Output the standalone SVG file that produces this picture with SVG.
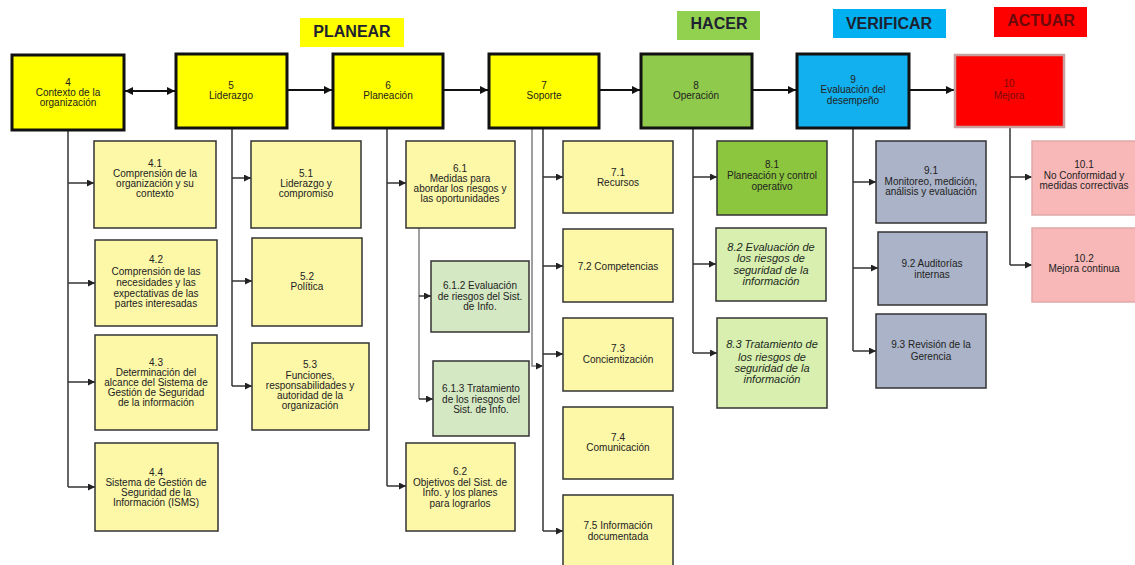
<svg xmlns="http://www.w3.org/2000/svg" width="1135" height="565" viewBox="0 0 1135 565">
  <style>
    .t { font-family: "Liberation Sans", Arial, sans-serif; font-size: 10px; fill: #222; text-anchor: middle; }
    .it { font-style: italic; font-size: 11px; fill: #1d2a1d; }
    .hdr { font-family: "Liberation Sans", Arial, sans-serif; font-size: 16px; font-weight: bold; fill: #1e2230; text-anchor: middle; }
    .mainbox { stroke: #111; stroke-width: 3; }
    .box { stroke: #333; stroke-width: 1.5; }
    .yel { fill: #ffff00; }
    .sy { fill: #fcf8a8; }
    .sg { fill: #d5e8c4; }
    .lg { fill: #d8efb0; }
    .sb { fill: #aab3c7; }
    .sp { fill: #f8b8b8; }
    .main { stroke: #111; stroke-width: 2.2; fill: none; }
    .sub { stroke: #333; stroke-width: 1.5; fill: none; }
    .grey { stroke: #808080; stroke-width: 1.5; fill: none; }
  </style>
  <defs>
    <marker id="ah" viewBox="0 0 10 10" refX="10" refY="5" markerWidth="8" markerHeight="8" markerUnits="userSpaceOnUse" orient="auto-start-reverse">
      <path d="M0,0 L10,5 L0,10 z" fill="#111"/>
    </marker>
    <marker id="as" viewBox="0 0 10 10" refX="10" refY="5" markerWidth="7" markerHeight="7" markerUnits="userSpaceOnUse" orient="auto">
      <path d="M0,0 L10,5 L0,10 z" fill="#222"/>
    </marker>
  </defs>

  <rect width="1135" height="565" fill="#ffffff"/>

  <!-- phase headers -->
  <g id="phases">
    <rect x="300" y="18" width="104" height="29" fill="#ffff00"/>
    <text class="hdr" x="352" y="37">PLANEAR</text>
    <rect x="677" y="11" width="83" height="29" fill="#92d050"/>
    <text class="hdr" x="719" y="29">HACER</text>
    <rect x="833" y="9" width="113" height="29" fill="#00b0f0"/>
    <text class="hdr" x="889" y="29">VERIFICAR</text>
    <rect x="994" y="7" width="93" height="30" fill="#ff0000"/>
    <text class="hdr" x="1041" y="26" style="fill:#6a0a0a">ACTUAR</text>
  </g>

  <!-- connectors -->
  <g id="connectors">
    <!-- main chain -->
    <path class="main" d="M125 91 H175" marker-start="url(#ah)" marker-end="url(#ah)"/>
    <path class="main" d="M288 90 H332" marker-end="url(#ah)"/>
    <path class="main" d="M444 90 H488" marker-end="url(#ah)"/>
    <path class="main" d="M600 90 H640" marker-end="url(#ah)"/>
    <path class="main" d="M753 90 H796" marker-end="url(#ah)"/>
    <path class="main" d="M910 90 H954" marker-end="url(#ah)"/>

    <!-- column 4 -->
    <path class="sub" d="M68 130 V487"/>
    <path class="sub" d="M68 183 H94" marker-end="url(#as)"/>
    <path class="sub" d="M68 283 H95" marker-end="url(#as)"/>
    <path class="sub" d="M68 382 H95" marker-end="url(#as)"/>
    <path class="sub" d="M68 487 H95" marker-end="url(#as)"/>

    <!-- column 5 -->
    <path class="sub" d="M232 128 V386"/>
    <path class="sub" d="M232 178 H251" marker-end="url(#as)"/>
    <path class="sub" d="M232 281 H252" marker-end="url(#as)"/>
    <path class="sub" d="M232 386 H252" marker-end="url(#as)"/>

    <!-- column 6 -->
    <path class="sub" d="M387 128 V486"/>
    <path class="sub" d="M387 183 H406" marker-end="url(#as)"/>
    <path class="sub" d="M387 486 H406" marker-end="url(#as)"/>
    <path class="grey" d="M419 227 V399"/>
    <path class="sub" d="M419 296 H431" marker-end="url(#as)"/>
    <path class="sub" d="M419 399 H433" marker-end="url(#as)"/>

    <!-- column 7 -->
    <path class="sub" d="M543 128 V531"/>
    <path class="grey" d="M532 128 V366 H543" marker-end="url(#as)"/>
    <path class="sub" d="M543 177 H563" marker-end="url(#as)"/>
    <path class="sub" d="M543 266 H563" marker-end="url(#as)"/>
    <path class="sub" d="M543 354 H563" marker-end="url(#as)"/>
    <path class="sub" d="M543 531 H563" marker-end="url(#as)"/>

    <!-- column 8 -->
    <path class="sub" d="M693 128 V353"/>
    <path class="sub" d="M693 177 H717" marker-end="url(#as)"/>
    <path class="sub" d="M693 264 H716" marker-end="url(#as)"/>
    <path class="sub" d="M693 353 H717" marker-end="url(#as)"/>

    <!-- column 9 -->
    <path class="sub" d="M853 128 V351"/>
    <path class="sub" d="M853 182 H876" marker-end="url(#as)"/>
    <path class="sub" d="M853 268 H878" marker-end="url(#as)"/>
    <path class="sub" d="M853 351 H876" marker-end="url(#as)"/>

    <!-- column 10 -->
    <path class="sub" d="M1010 127 V265"/>
    <path class="sub" d="M1010 177 H1032" marker-end="url(#as)"/>
    <path class="sub" d="M1010 265 H1032" marker-end="url(#as)"/>
  </g>

  <!-- main clauses -->
  <g id="n4">
    <rect class="mainbox yel" x="12" y="55" width="112" height="75"/>
    <text class="t"><tspan x="68" y="85.5">4</tspan><tspan x="68" y="95.5">Contexto de la</tspan><tspan x="68" y="105.5">organización</tspan></text>
  </g>
  <g id="n5">
    <rect class="mainbox yel" x="176" y="54" width="111" height="74"/>
    <text class="t"><tspan x="231" y="88.5">5</tspan><tspan x="231" y="98.5">Liderazgo</tspan></text>
  </g>
  <g id="n6">
    <rect class="mainbox yel" x="333" y="54" width="110" height="74"/>
    <text class="t"><tspan x="388" y="88.5">6</tspan><tspan x="388" y="98.5">Planeación</tspan></text>
  </g>
  <g id="n7">
    <rect class="mainbox yel" x="489" y="54" width="110" height="74"/>
    <text class="t"><tspan x="544" y="88.5">7</tspan><tspan x="544" y="98.5">Soporte</tspan></text>
  </g>
  <g id="n8">
    <rect class="mainbox" x="641" y="54" width="111" height="74" fill="#8fca4c"/>
    <text class="t"><tspan x="696" y="88.5">8</tspan><tspan x="696" y="98.5">Operación</tspan></text>
  </g>
  <g id="n9">
    <rect class="mainbox" x="797" y="54" width="112" height="74" fill="#12b0ee"/>
    <text class="t"><tspan x="853" y="82.5">9</tspan><tspan x="853" y="93">Evaluación del</tspan><tspan x="853" y="103.5">desempeño</tspan></text>
  </g>
  <g id="n10">
    <rect x="955" y="55" width="109" height="72" fill="#ff0000" stroke="#c8a0a0" stroke-width="2.5"/>
    <text class="t" style="fill:#7a0a0a"><tspan x="1009" y="86.5">10</tspan><tspan x="1009" y="98.5">Mejora</tspan></text>
  </g>

  <!-- clause 4 items -->
  <g id="n4-1">
    <rect class="box sy" x="94" y="141" width="122" height="87"/>
    <text class="t"><tspan x="155" y="166.5">4.1</tspan><tspan x="155" y="176.5">Comprensión de la</tspan><tspan x="155" y="186.5">organización y su</tspan><tspan x="155" y="197">contexto</tspan></text>
  </g>
  <g id="n4-2">
    <rect class="box sy" x="95" y="240" width="122" height="86"/>
    <text class="t"><tspan x="156" y="262.5">4.2</tspan><tspan x="156" y="275">Comprensión de las</tspan><tspan x="156" y="286">necesidades y las</tspan><tspan x="156" y="296.5">expectativas de las</tspan><tspan x="156" y="306.5">partes interesadas</tspan></text>
  </g>
  <g id="n4-3">
    <rect class="box sy" x="95" y="335" width="122" height="95"/>
    <text class="t"><tspan x="156" y="365.5">4.3</tspan><tspan x="156" y="375.5">Determinación del</tspan><tspan x="156" y="386">alcance del Sistema de</tspan><tspan x="156" y="396">Gestión de Seguridad</tspan><tspan x="156" y="405.5">de la información</tspan></text>
  </g>
  <g id="n4-4">
    <rect class="box sy" x="95" y="443" width="123" height="88"/>
    <text class="t"><tspan x="156" y="475.5">4.4</tspan><tspan x="156" y="485.5">Sistema de Gestión de</tspan><tspan x="156" y="495.5">Seguridad de la</tspan><tspan x="156" y="506">Información (ISMS)</tspan></text>
  </g>

  <!-- clause 5 items -->
  <g id="n5-1">
    <rect class="box sy" x="251" y="141" width="110" height="87"/>
    <text class="t"><tspan x="306" y="176.5">5.1</tspan><tspan x="306" y="186.5">Liderazgo y</tspan><tspan x="306" y="196.5">compromiso</tspan></text>
  </g>
  <g id="n5-2">
    <rect class="box sy" x="252" y="238" width="110" height="88"/>
    <text class="t"><tspan x="307" y="279.5">5.2</tspan><tspan x="307" y="289.5">Política</tspan></text>
  </g>
  <g id="n5-3">
    <rect class="box sy" x="252" y="343" width="117" height="87"/>
    <text class="t"><tspan x="310" y="367.5">5.3</tspan><tspan x="310" y="378.5">Funciones,</tspan><tspan x="310" y="388.5">responsabilidades y</tspan><tspan x="310" y="398.5">autoridad de la</tspan><tspan x="310" y="409">organización</tspan></text>
  </g>

  <!-- clause 6 items -->
  <g id="n6-1">
    <rect class="box sy" x="406" y="141" width="109" height="87"/>
    <text class="t"><tspan x="460" y="171.5">6.1</tspan><tspan x="460" y="181.5">Medidas para</tspan><tspan x="460" y="191.5">abordar los riesgos y</tspan><tspan x="460" y="202">las oportunidades</tspan></text>
  </g>
  <g id="n6-1-2">
    <rect class="box sg" x="431" y="261" width="98" height="71"/>
    <text class="t"><tspan x="480" y="288.5">6.1.2  Evaluación</tspan><tspan x="480" y="299.5">de riesgos del Sist.</tspan><tspan x="480" y="309.5">de Info.</tspan></text>
  </g>
  <g id="n6-1-3">
    <rect class="box sg" x="433" y="361" width="96" height="75"/>
    <text class="t"><tspan x="481" y="391.5">6.1.3 Tratamiento</tspan><tspan x="481" y="402.5">de los riesgos del</tspan><tspan x="481" y="412.5">Sist. de Info.</tspan></text>
  </g>
  <g id="n6-2">
    <rect class="box sy" x="406" y="443" width="109" height="88"/>
    <text class="t"><tspan x="460" y="474.5">6.2</tspan><tspan x="460" y="485.5">Objetivos del Sist. de</tspan><tspan x="460" y="495.5">Info. y los planes</tspan><tspan x="460" y="506.5">para lograrlos</tspan></text>
  </g>

  <!-- clause 7 items -->
  <g id="n7-1">
    <rect class="box sy" x="563" y="141" width="110" height="72"/>
    <text class="t"><tspan x="618" y="175.5">7.1</tspan><tspan x="618" y="185.5">Recursos</tspan></text>
  </g>
  <g id="n7-2">
    <rect class="box sy" x="563" y="229" width="110" height="73"/>
    <text class="t"><tspan x="618" y="269.5">7.2 Competencias</tspan></text>
  </g>
  <g id="n7-3">
    <rect class="box sy" x="563" y="318" width="110" height="73"/>
    <text class="t"><tspan x="618" y="351.5">7.3</tspan><tspan x="618" y="362.5">Concientización</tspan></text>
  </g>
  <g id="n7-4">
    <rect class="box sy" x="563" y="407" width="110" height="72"/>
    <text class="t"><tspan x="618" y="440.5">7.4</tspan><tspan x="618" y="450.5">Comunicación</tspan></text>
  </g>
  <g id="n7-5">
    <rect class="box sy" x="563" y="495" width="110" height="75"/>
    <text class="t"><tspan x="618" y="528.5">7.5 Información</tspan><tspan x="618" y="539.5">documentada</tspan></text>
  </g>

  <!-- clause 8 items -->
  <g id="n8-1">
    <rect class="box" x="717" y="141" width="110" height="74" fill="#8cc63e"/>
    <text class="t"><tspan x="772" y="167.5">8.1</tspan><tspan x="772" y="178.5">Planeación y control</tspan><tspan x="772" y="189.5">operativo</tspan></text>
  </g>
  <g id="n8-2">
    <rect class="box lg" x="716" y="228" width="110" height="73"/>
    <text class="t it"><tspan x="771" y="251">8.2 Evaluación de</tspan><tspan x="771" y="262">los riesgos de</tspan><tspan x="771" y="274">seguridad de la</tspan><tspan x="771" y="285">información</tspan></text>
  </g>
  <g id="n8-3">
    <rect class="box lg" x="717" y="318" width="110" height="90"/>
    <text class="t it"><tspan x="772" y="348">8.3 Tratamiento de</tspan><tspan x="772" y="361">los riesgos de</tspan><tspan x="772" y="372">seguridad de la</tspan><tspan x="772" y="383">información</tspan></text>
  </g>

  <!-- clause 9 items -->
  <g id="n9-1">
    <rect class="box sb" x="876" y="141" width="110" height="82"/>
    <text class="t"><tspan x="931" y="173.5">9.1</tspan><tspan x="931" y="184.5">Monitoreo, medición,</tspan><tspan x="931" y="194.5">análisis y evaluación</tspan></text>
  </g>
  <g id="n9-2">
    <rect class="box sb" x="878" y="232" width="109" height="73"/>
    <text class="t"><tspan x="932" y="266.5">9.2 Auditorías</tspan><tspan x="932" y="277.5">internas</tspan></text>
  </g>
  <g id="n9-3">
    <rect class="box sb" x="876" y="314" width="110" height="74"/>
    <text class="t"><tspan x="931" y="347.5">9.3 Revisión de la</tspan><tspan x="931" y="359.5">Gerencia</tspan></text>
  </g>

  <!-- clause 10 items -->
  <g id="n10-1">
    <rect x="1032" y="141" width="106" height="74" fill="#f8b8b8" stroke="#e0a8a8" stroke-width="1.5"/>
    <text class="t"><tspan x="1084" y="167.5">10.1</tspan><tspan x="1084" y="178.5">No Conformidad y</tspan><tspan x="1084" y="188.5">medidas correctivas</tspan></text>
  </g>
  <g id="n10-2">
    <rect x="1032" y="228" width="106" height="74" fill="#f8b8b8" stroke="#e0a8a8" stroke-width="1.5"/>
    <text class="t"><tspan x="1084" y="261.5">10.2</tspan><tspan x="1084" y="271.5">Mejora continua</tspan></text>
  </g>
</svg>
